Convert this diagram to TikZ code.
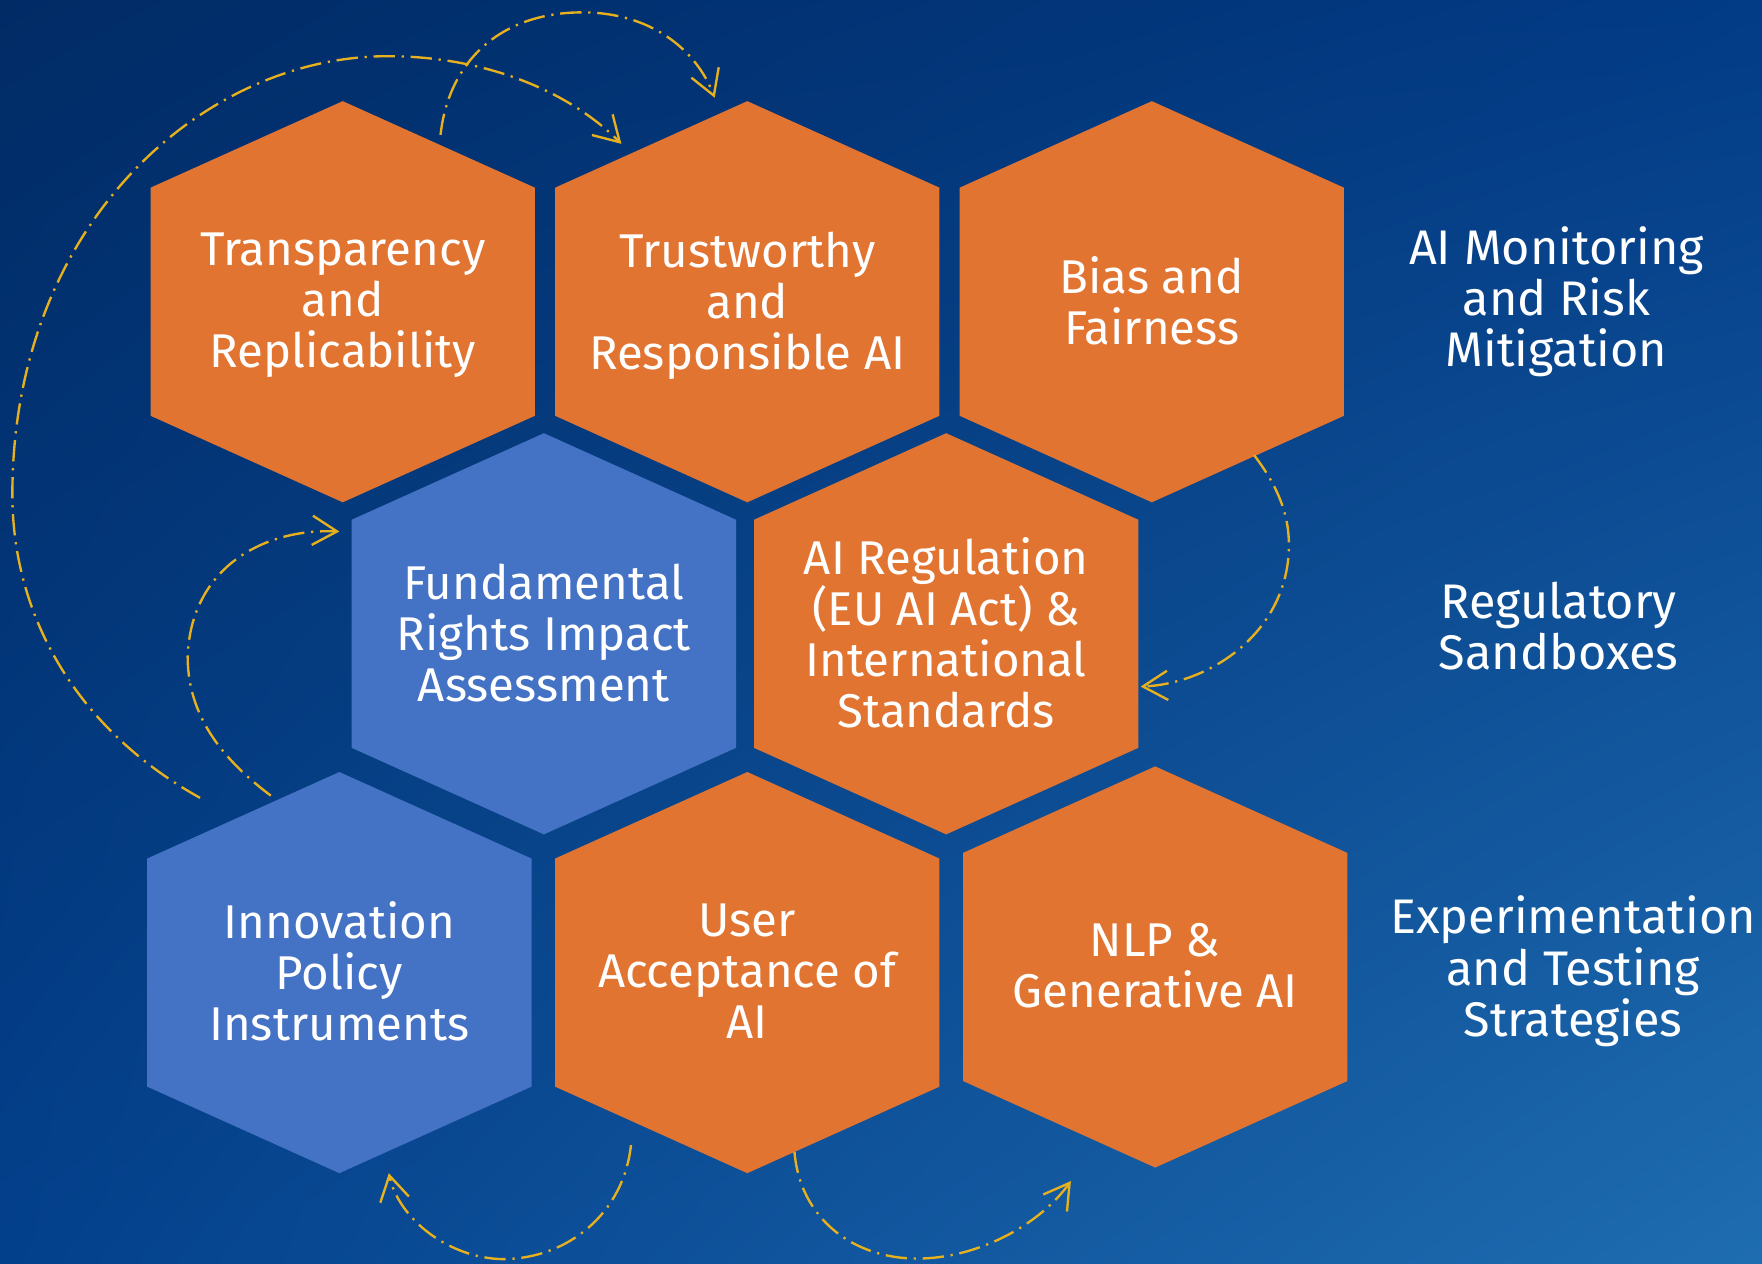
\documentclass[tikz,border=0pt]{standalone}
\usepackage{fontspec}
\setmainfont{Fira Sans}
\usetikzlibrary{arrows.meta,shadings}

\definecolor{bgul}{HTML}{012B65}
\definecolor{bgur}{HTML}{023B86}
\definecolor{bgll}{HTML}{03408C}
\definecolor{bglr}{HTML}{1F6DB1}
\definecolor{cellorange}{HTML}{E27431}
\definecolor{cellblue}{HTML}{4472C4}
\definecolor{flowgold}{HTML}{E6B01E}

% struts so every block is centred the same way
\newcommand{\topstrut}{\rule{0pt}{11.8pt}}
\newcommand{\botstrut}{\rule[-3.5pt]{0pt}{0pt}}

\tikzset{
  celltext/.style={text=white, align=center, inner sep=0pt, yshift=-1.4pt,
    font=\fontsize{12}{12.9}\selectfont,
    execute at begin node=\topstrut, execute at end node=\botstrut},
  sidetext/.style={celltext, font=\fontsize{12.3}{13}\selectfont},
  flow/.style={draw=flowgold, line width=0.6pt,
    dash pattern=on 1.9mm off 0.6mm on 0.2mm off 0.6mm,
    -{Straight Barb[length=2.2mm,width=2.6mm]}}
}

% hexagon: colour, centre x, centre y
\newcommand{\hexcell}[3]{%
  \fill[#1] (#2,#3-178.5) -- (#2+171,#3-101.5) -- (#2+171,#3+101.5)
    -- (#2,#3+178.5) -- (#2-171,#3+101.5) -- (#2-171,#3-101.5) -- cycle;}

\begin{document}
\begin{tikzpicture}[x=0.1mm, y=-0.1mm]
  \useasboundingbox (0,0) rectangle (1568,1124);
  \shade[upper left=bgul, upper right=bgur, lower left=bgll, lower right=bglr]
    (0,0) rectangle (1568,1124);

  % cells
  \hexcell{cellorange}{305}{268.5}
  \hexcell{cellorange}{665}{268.5}
  \hexcell{cellorange}{1025}{268.5}
  \hexcell{cellblue}{484}{564}
  \hexcell{cellorange}{842}{564}
  \hexcell{cellblue}{302}{865.5}
  \hexcell{cellorange}{665}{865.5}
  \hexcell{cellorange}{1028}{860.5}

  \node[celltext] (transp) at (305,268.5) {Transparency\\and\\Replicability};
  \node[celltext] (trust) at (665,268.5) {Trustworthy\\and\\Responsible AI};
  \node[celltext] (bias) at (1025,268.5) {Bias and\\Fairness};
  \node[celltext] (fria) at (484,564) {Fundamental\\Rights Impact\\Assessment};
  \node[celltext] (actreg) at (842,564) {AI Regulation\\(EU AI Act) \&\\International\\Standards};
  \node[celltext] (innov) at (302,865.5) {Innovation\\Policy\\Instruments};
  \node[celltext] (accept) at (665,865.5) {User\\Acceptance of\\AI};
  \node[celltext] (genai) at (1028,860.5) {NLP \&\\Generative AI};

  % labels on the right
  \node[sidetext] (monitor) at (1385,265) {AI Monitoring\\and Risk\\Mitigation};
  \node[sidetext] (sandbox) at (1387,558) {Regulatory\\Sandboxes};
  \node[sidetext] (testing) at (1400,861) {Experimentation\\and Testing\\Strategies};

  % arrow ends
  \coordinate (a1s) at (178,710);
  \coordinate (a1e) at (553,128);
  \coordinate (a2s) at (392,120);
  \coordinate (a2e) at (636,87);
  \coordinate (a3s) at (241,708);
  \coordinate (a3e) at (302,473);
  \coordinate (a4s) at (1116,405);
  \coordinate (a4e) at (1015,611);
  \coordinate (a5s) at (561.5,1019);
  \coordinate (a5e) at (346,1044);
  \coordinate (a6s) at (707,1025);
  \coordinate (a6e) at (953,1051);

  \draw[flow] (a1s) .. controls (70,650) and (11,550) .. (11,440)
    .. controls (11,200) and (180,50) .. (345,50)
    .. controls (430,50) and (505,80) .. (a1e);
  \draw[flow] (a2s) .. controls (400,50) and (450,11) .. (518,11)
    .. controls (580,11) and (620,45) .. (a2e);
  \draw[flow] (a3s) .. controls (190,670) and (167,630) .. (167,584)
    .. controls (170,505) and (235,470) .. (a3e);
  \draw[flow] (a4s) .. controls (1135,430) and (1147,455) .. (1147,485)
    .. controls (1147,560) and (1080,608) .. (a4e);
  \draw[flow] (a5s) .. controls (555,1080) and (505,1120) .. (448,1120.5)
    .. controls (400,1120) and (355,1085) .. (a5e);
  \draw[flow] (a6s) .. controls (712,1085) and (760,1120) .. (816,1120)
    .. controls (870,1120) and (925,1090) .. (a6e);
\end{tikzpicture}
\end{document}
